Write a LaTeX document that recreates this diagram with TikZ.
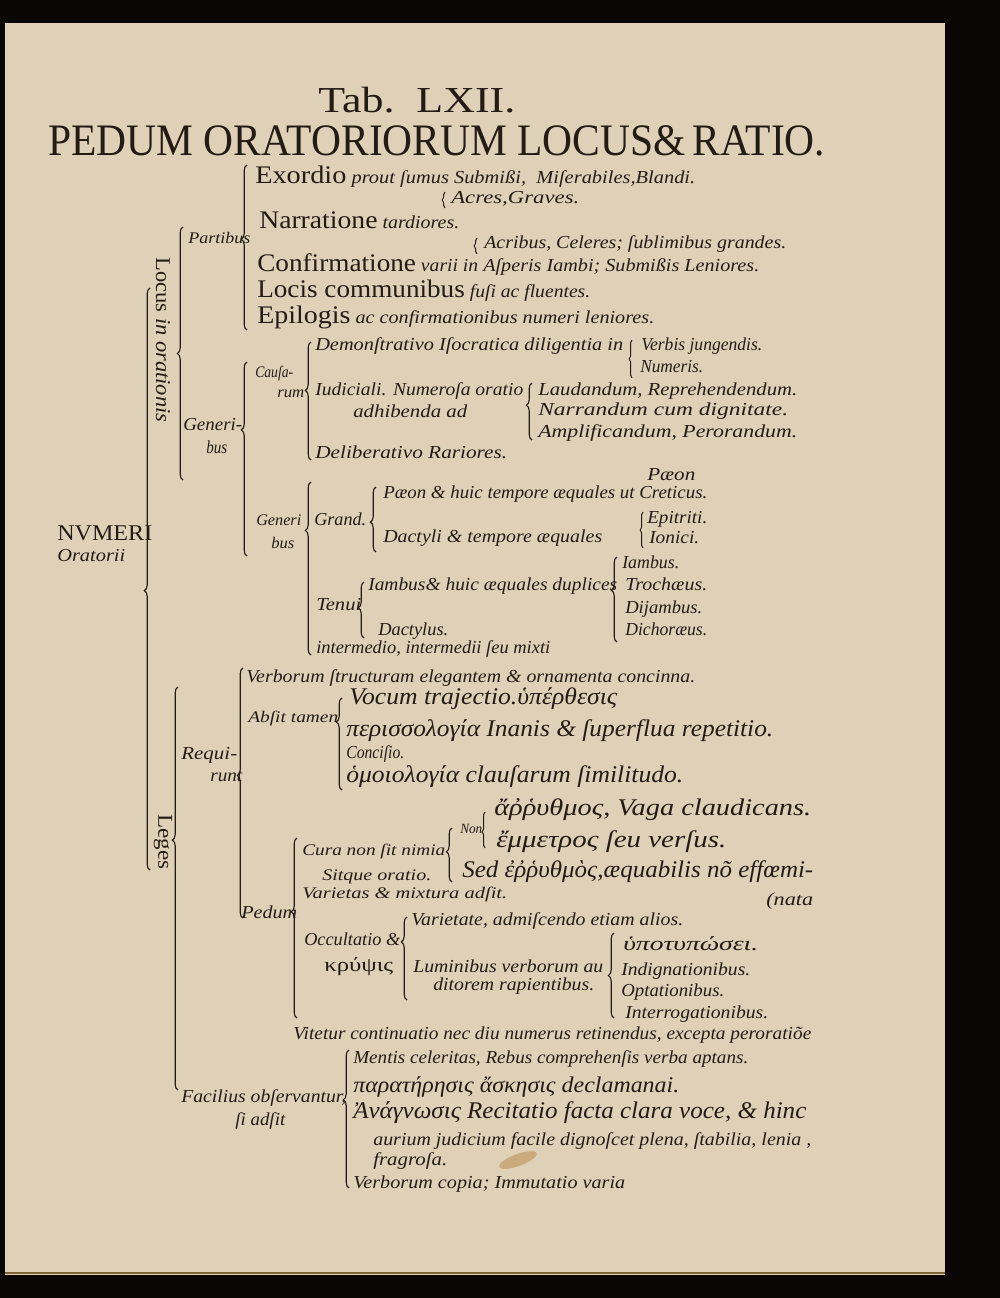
\documentclass[tikz,border=0pt]{standalone}
\usepackage{fontspec}
\setmainfont{Liberation Serif}
\usetikzlibrary{decorations.pathreplacing}
\definecolor{ink}{RGB}{36,27,20}
\definecolor{paper}{RGB}{222,209,184}
\definecolor{scanblack}{RGB}{10,6,6}
\definecolor{stain}{RGB}{185,140,80}
\newcommand{\fs}[1]{\fontsize{#1}{#1}\selectfont}
\newcommand{\rb}[1]{{\upshape\fs{18}#1}}
\newlength{\fitlen}
\newcommand{\fitto}[2]{\settowidth{\fitlen}{#2}\pgfmathsetmacro{\fitsx}{#1*0.025cm/\fitlen}\scalebox{\fitsx}[1]{#2}}
\tikzset{
    txt/.style={anchor=base west, inner sep=0pt, text=ink},
    sm/.style={txt, font=\fs{11.5}\itshape},
    md/.style={txt, font=\fs{13}\itshape},
    lg/.style={txt, font=\fs{17}\itshape},
    brc/.style={draw=ink, line width=0.8pt, decorate, decoration={brace, amplitude=4pt, aspect=#1}},
    curl/.style={draw=ink, line width=0.7pt, decorate, decoration={brace, amplitude=2pt, aspect=#1}}
}

\begin{document}
\begin{tikzpicture}[x=0.025cm, y=-0.025cm]
    \useasboundingbox (0,0) rectangle (1000,1298);
    % scan and page
    \fill[scanblack] (0,0) rectangle (1000,1298);
    \fill[paper] (5,23) rectangle (945,1275);
    \draw[stain!70!black, line width=1.2pt] (5,1273) -- (945,1273);
    \fill[stain, opacity=.55, rotate around={20:(518,1160)}] (518,1160) ellipse [x radius=0.5cm, y radius=0.15cm];

    % title
    \node[txt, font=\fs{26}] (tab) at (318,112) {\fitto{197}{Tab.~~LXII.}};
    \node[txt, font=\fs{32}] (title) at (48,155) {\fitto{777}{PEDUM ORATORIORUM LOCUS\&\,RATIO.}};

    % root
    \node[txt, font=\fs{16}] (numeri) at (57,540) {\fitto{95}{NVMERI}};
    \node[md] (orat) at (57,561) {\fitto{68}{Oratorii}};
    \draw[brc=0.48] (150,870) -- (150,288);
    \node[txt, anchor=center, rotate=-90, font=\fs{15}] (locus) at (163,340) {\fitto{165}{Locus \textit{in orationis}}};
    \node[txt, anchor=center, rotate=-90, font=\fs{15}] (leges) at (163,842) {\fitto{55}{Leges}};

    % Locus in orationis
    \draw[brc=0.5] (183,480) -- (183,227);
    \node[sm] (partibus) at (188,243) {\fitto{62}{Partibus}};
    \draw[brc=0.55] (247,330) -- (247,165);
    \node[md] (exord) at (255,183) {\fitto{440}{\rb{Exordio} prout ſumus Submißi,\ \ Miſerabiles,Blandi.}};
    \draw[curl=0.5] (445,208) -- (445,192);
    \node[md] (acres) at (451,203) {\fitto{128}{Acres,Graves.}};
    \node[md] (narr) at (259,228) {\fitto{200}{\rb{Narratione} tardiores.}};
    \draw[curl=0.5] (477,254) -- (477,238);
    \node[md] (acrib) at (484,248) {\fitto{302}{Acribus, Celeres; ſublimibus grandes.}};
    \node[md] (confirm) at (257,271) {\fitto{221}{\rb{Confirmatione} varii in}};
    \node[md] (asper) at (483,271) {\fitto{276}{Aſperis Iambi; Submißis Leniores.}};
    \node[md] (locis) at (257,297) {\fitto{333}{\rb{Locis communibus} fuſi ac fluentes.}};
    \node[md] (epil) at (257,323) {\fitto{397}{\rb{Epilogis} ac confirmationibus numeri leniores.}};

    \node[md] (gener) at (183,430) {\fitto{59}{Generi-}};
    \node[md] (generb) at (206,453) {\fitto{21}{bus}};
    \draw[brc=0.65] (247,556) -- (247,362);
    \node[sm] (causa) at (255,377) {\fitto{38}{Cauſa-}};
    \node[sm] (causab) at (277,397) {\fitto{27}{rum}};
    \draw[brc=0.59] (311,460) -- (311,342);
    \node[md] (demon) at (315,350) {\fitto{308}{Demonſtrativo Iſocratica diligentia in}};
    \draw[curl=0.5] (632,378) -- (632,340);
    \node[md] (verbis) at (641,350) {\fitto{121}{Verbis jungendis.}};
    \node[md] (numeris) at (640,372) {\fitto{63}{Numeris.}};
    \node[md] (iudic) at (315,395) {\fitto{208}{Iudiciali. Numeroſa oratio}};
    \node[md] (adhib) at (353,417) {\fitto{114}{adhibenda ad}};
    \draw[brc=0.61] (532,440) -- (532,383);
    \node[md] (laud) at (538,395) {\fitto{259}{Laudandum, Reprehendendum.}};
    \node[md] (narrand) at (538,415) {\fitto{250}{Narrandum cum dignitate.}};
    \node[md] (ampl) at (538,437) {\fitto{259}{Amplificandum, Perorandum.}};
    \node[md] (delib) at (315,458) {\fitto{192}{Deliberativo Rariores.}};

    % pedes
    \node[sm] (genfeet) at (256,525) {\fitto{45}{Generi}};
    \node[sm] (genfeetb) at (271,548) {\fitto{23}{bus}};
    \draw[brc=0.72] (311,655) -- (311,482);
    \node[md] (grand) at (314,525) {\fitto{52}{Grand.}};
    \draw[brc=0.46] (376,552) -- (376,487);
    \node[md] (paeon) at (383,498) {\fitto{324}{Pæon \& huic tempore æquales ut Creticus.}};
    \node[md] (dact) at (383,542) {\fitto{219}{Dactyli \& tempore æquales}};
    \node[md] (paeonb) at (647,480) {\fitto{48}{Pæon}};
    \draw[curl=0.5] (643,548) -- (643,512);
    \node[md] (epit) at (647,523) {\fitto{60}{Epitriti.}};
    \node[md] (ionic) at (649,543) {\fitto{50}{Ionici.}};
    \node[md] (tenui) at (316,610) {\fitto{45}{Tenui}};
    \draw[brc=0.54] (364,638) -- (364,582);
    \node[md] (iamb) at (368,590) {\fitto{249}{Iambus\& huic æquales duplices}};
    \node[md] (dactyl) at (378,635) {\fitto{70}{Dactylus.}};
    \draw[brc=0.61] (617,642) -- (617,557);
    \node[md] (iambb) at (622,568) {\fitto{57}{Iambus.}};
    \node[md] (troch) at (625,590) {\fitto{82}{Trochæus.}};
    \node[md] (dijamb) at (625,613) {\fitto{77}{Dijambus.}};
    \node[md] (dichor) at (625,635) {\fitto{82}{Dichoræus.}};
    \node[md] (interm) at (316,653) {\fitto{234}{intermedio, intermedii ſeu mixti}};

    % Leges
    \draw[brc=0.62] (178,1090) -- (178,687);
    \node[md] (requi) at (181,759) {\fitto{56}{Requi-}};
    \node[md] (requib) at (210,781) {\fitto{32}{runt}};
    \draw[brc=0.57] (243,918) -- (243,668);
    \node[md] (verb) at (246,682) {\fitto{449}{Verborum ſtructuram elegantem \& ornamenta concinna.}};
    \node[sm] (absit) at (248,722) {\fitto{90}{Abſit tamen}};
    \draw[brc=0.74] (342,790) -- (342,698);
    \node[lg] (vocum) at (349,704) {\fitto{268}{Vocum trajectio.ὑπέρθεσις}};
    \node[lg] (periss) at (346,736) {\fitto{427}{περισσολογία Inanis \& ſuperflua repetitio.}};
    \node[md] (concis) at (346,758) {\fitto{58}{Conciſio.}};
    \node[lg] (homoi) at (346,782) {\fitto{337}{ὁμοιολογία clauſarum ſimilitudo.}};

    \node[md] (pedum) at (241,918) {\fitto{56}{Pedum}};
    \draw[brc=0.59] (297,1018) -- (297,838);
    \node[sm] (cura) at (302,855) {\fitto{143}{Cura non ſit nimia}};
    \node[sm] (sitque) at (322,880) {\fitto{109}{Sitque oratio.}};
    \draw[brc=0.56] (452,882) -- (452,828);
    \node[txt, font=\fs{10}\itshape] (non) at (460,833) {\fitto{22}{Non}};
    \draw[curl=0.45] (485,848) -- (485,812);
    \node[lg] (arrhy) at (494,815) {\fitto{317}{ἄῤῥυθμος, Vaga claudicans.}};
    \node[lg] (emmet) at (496,847) {\fitto{230}{ἔμμετρος ſeu verſus.}};
    \node[lg] (sed) at (462,877) {\fitto{351}{Sed ἐῤῥυθμὸς,æquabilis nõ effœmi-}};
    \node[md] (nata) at (766,905) {\fitto{47}{(nata}};
    \node[sm] (variet) at (302,898) {\fitto{205}{Varietas \& mixtura adſit.}};
    \node[md] (occult) at (304,945) {\fitto{96}{Occultatio \&}};
    \node[txt, font=\fs{14}] (krypsis) at (324,971) {\fitto{69}{κρύψις}};
    \draw[brc=0.7] (407,1000) -- (407,917);
    \node[md] (varieta) at (411,925) {\fitto{272}{Varietate, admiſcendo etiam alios.}};
    \node[md] (lumin) at (413,972) {\fitto{190}{Luminibus verborum au}};
    \node[md] (ditor) at (433,990) {\fitto{161}{ditorem rapientibus.}};
    \draw[brc=0.5] (614,1018) -- (614,933);
    \node[txt, font=\fs{14}\itshape] (hypot) at (623,950) {\fitto{135}{ὑποτυπώσει.}};
    \node[md] (indig) at (621,975) {\fitto{129}{Indignationibus.}};
    \node[md] (optat) at (621,996) {\fitto{103}{Optationibus.}};
    \node[md] (interr) at (625,1018) {\fitto{143}{Interrogationibus.}};
    \node[md] (vitet) at (293,1039) {\fitto{518}{Vitetur continuatio nec diu numerus retinendus, excepta peroratiõe}};

    \node[md] (facil) at (181,1102) {\fitto{165}{Facilius obſervantur,}};
    \node[md] (siads) at (235,1125) {\fitto{50}{ſi adſit}};
    \draw[brc=0.64] (349,1188) -- (349,1050);
    \node[md] (mentis) at (353,1063) {\fitto{395}{Mentis celeritas, Rebus comprehenſis verba aptans.}};
    \node[txt, font=\fs{16}\itshape] (parat) at (353,1092) {\fitto{326}{παρατήρησις ἄσκησις declamanai.}};
    \node[lg] (anagn) at (353,1118) {\fitto{453}{Ἀνάγνωσις Recitatio facta clara voce, \& hinc}};
    \node[txt, font=\fs{13}\itshape] (aurium) at (373,1145) {\fitto{438}{aurium judicium facile dignoſcet plena, ſtabilia, lenia ,}};
    \node[txt, font=\fs{13}\itshape] (fragr) at (373,1165) {\fitto{74}{fragroſa.}};
    \node[txt, font=\fs{13}\itshape] (copia) at (353,1188) {\fitto{272}{Verborum copia; Immutatio varia}};
\end{tikzpicture}
\end{document}
